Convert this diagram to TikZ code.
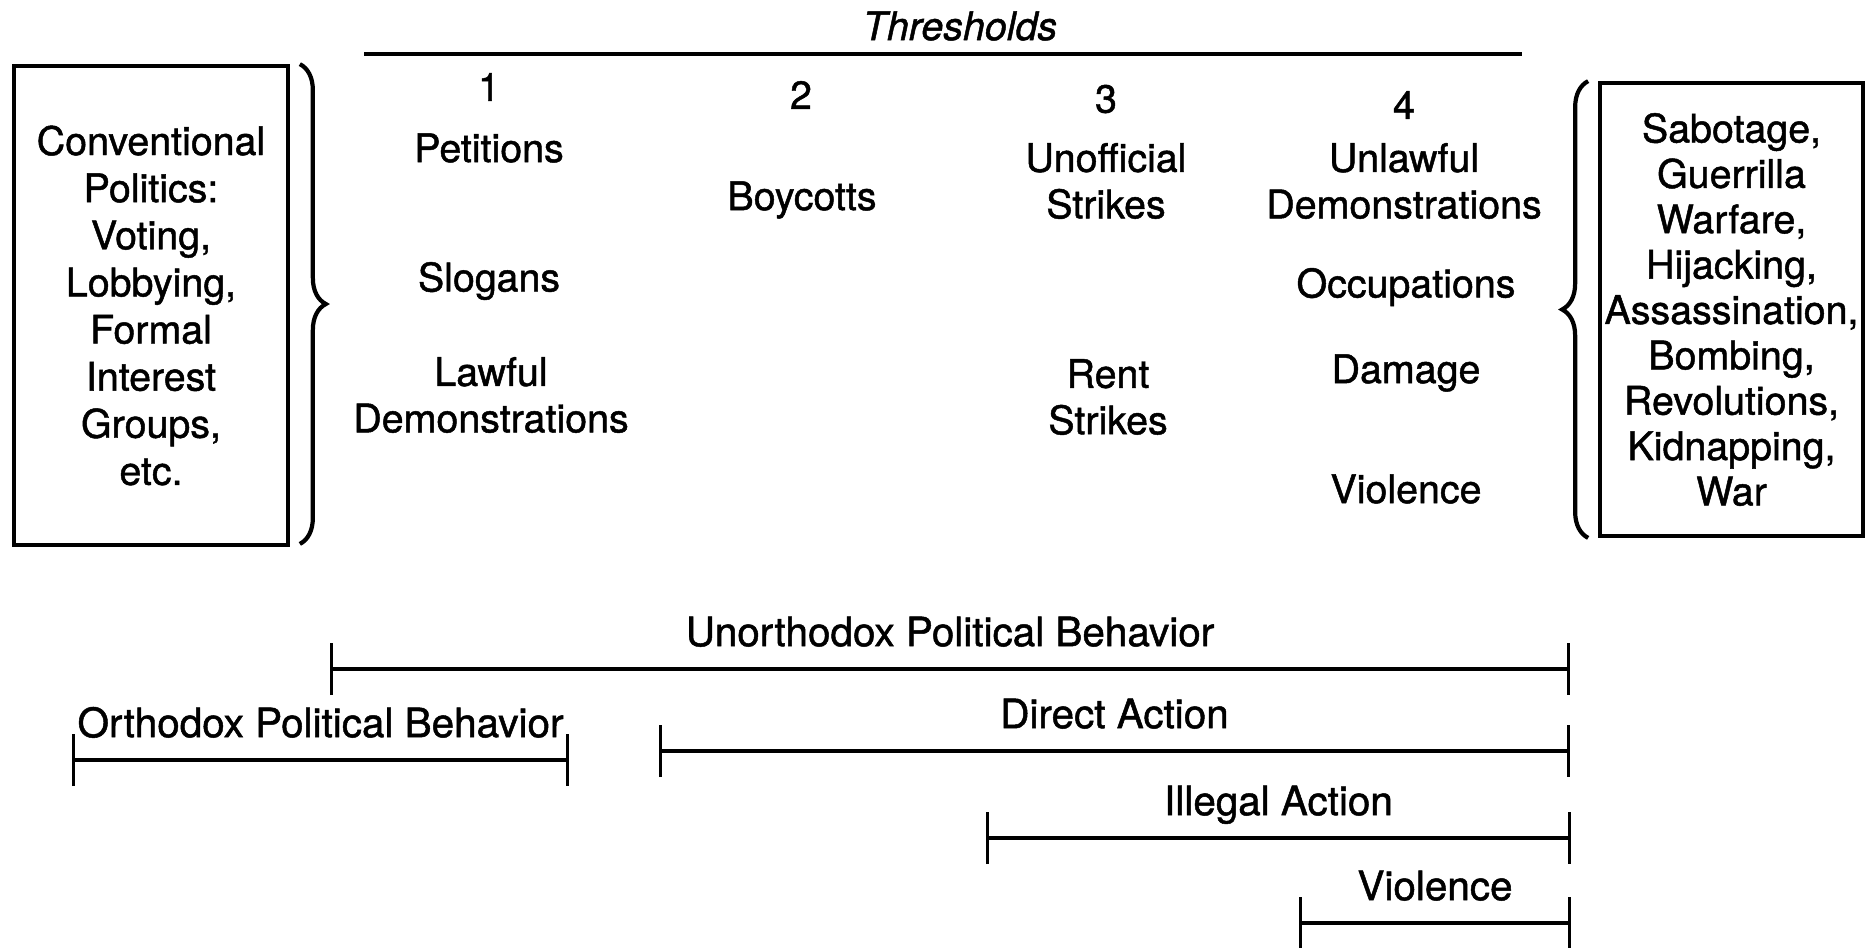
\documentclass[tikz,border=0pt]{standalone}
\usepackage{fontspec}
\setmainfont{TeX Gyre Heros}[FakeBold=1.2]
\usetikzlibrary{arrows.meta,positioning,decorations.pathreplacing}

\begin{document}
\begin{tikzpicture}[x=.01cm,y=-.01cm,
 lbl/.style={font=\fontsize{11.2}{13.2}\selectfont,align=center,inner sep=1pt},
 cat/.style={draw,line width=1pt,align=center,inner sep=0pt},
 spanbar/.style={line width=1.1pt,{Bar[width=.52cm,line width=.8pt]}-{Bar[width=.52cm,line width=.8pt]}},
 rlbl/.style={lbl,font=\fontsize{11.5}{13.2}\selectfont,midway,anchor=base,yshift=6.5pt},
 brc/.style={line width=1.2pt,decorate,decoration={brace,amplitude=.26cm}}]
 \useasboundingbox (0,0) rectangle (1869,947);
 % thresholds heading
 \node[lbl,font=\fontsize{11.2}{13.2}\selectfont\itshape] (thr) at (960,26) {Thresholds};
 \coordinate (thrL) at (364,54);
 \coordinate (thrR) at (1522,54);
 \draw[line width=1.1pt] (thrL)--(thrR);
 % side boxes
 \node[cat,minimum width=2.74cm,minimum height=4.79cm,font=\fontsize{11.2}{13.4}\selectfont] (conv) at (151,305.5)
  {Conventional\\Politics:\\Voting,\\Lobbying,\\Formal\\Interest\\Groups,\\etc.};
 \node[cat,minimum width=2.63cm,minimum height=4.53cm,font=\fontsize{11.2}{12.9}\selectfont] (extr) at (1731.5,309.5)
  {Sabotage,\\Guerrilla\\Warfare,\\Hijacking,\\Assassination,\\Bombing,\\Revolutions,\\Kidnapping,\\War};
 \draw[brc] ([xshift=.1cm]conv.north east)--([xshift=.1cm,yshift=.03cm]conv.south east);
 \draw[brc] ([xshift=-.1cm]extr.south west)--([xshift=-.1cm]extr.north west);
 % threshold columns
 \node[lbl] (n1) at (489,87) {1};
 \node[lbl] (pet) at (489,148) {Petitions};
 \node[lbl] (slog) at (489,281) {Slogans};
 \node[lbl] (lawd) at (491,395) {Lawful\\Demonstrations};
 \node[lbl] (n2) at (801,95) {2};
 \node[lbl] (boy) at (802,200) {Boycotts};
 \node[lbl] (n3) at (1106,99) {3};
 \node[lbl] (unoff) at (1106,181) {Unofficial\\Strikes};
 \node[lbl] (rent) at (1108,397) {Rent\\Strikes};
 \node[lbl] (n4) at (1404,105) {4};
 \node[lbl] (unlaw) at (1404,181) {Unlawful\\Demonstrations};
 \node[lbl] (occ) at (1406,287) {Occupations};
 \node[lbl] (dam) at (1406,373) {Damage};
 \node[lbl] (viol) at (1406,489) {Violence};
 % behaviour ranges
 \coordinate (unoL) at (330,669);  \coordinate (unoR) at (1570,669);
 \coordinate (ortL) at (72,760);   \coordinate (ortR) at (569,760);
 \coordinate (dirL) at (659,751);  \coordinate (dirR) at (1570,751);
 \coordinate (illL) at (986,838);  \coordinate (illR) at (1571,838);
 \coordinate (vioL) at (1299,923); \coordinate (vioR) at (1571,923);
 \draw[spanbar] (unoL)--node[rlbl] (uno) {Unorthodox Political Behavior} (unoR);
 \draw[spanbar] (ortL)--node[rlbl] (ort) {Orthodox Political Behavior} (ortR);
 \draw[spanbar] (dirL)--node[rlbl] (dir) {Direct Action} (dirR);
 \draw[spanbar] (illL)--node[rlbl] (ill) {Illegal Action} (illR);
 \draw[spanbar] (vioL)--node[rlbl] (vio) {Violence} (vioR);
\end{tikzpicture}
\end{document}
